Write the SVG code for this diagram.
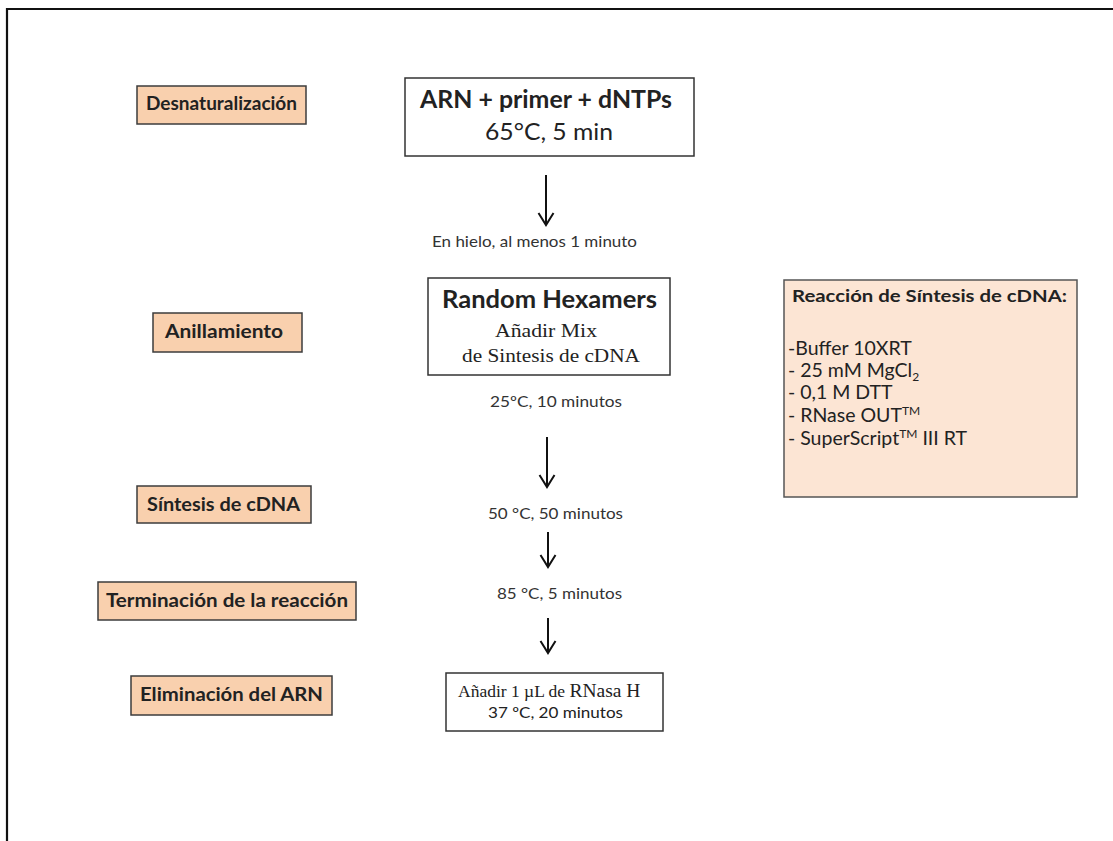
<svg xmlns="http://www.w3.org/2000/svg" width="1113" height="841" viewBox="0 0 1113 841">
<style>
.lbl rect{fill:#f9d0ae;stroke:#3c3c3c;stroke-width:1.5}
.lbl text{font-family:Lato,"Liberation Sans",sans-serif;font-weight:bold;font-size:18.5px;fill:#222}
.box{fill:#fff;stroke:#333;stroke-width:1.5}
.sans{font-family:Lato,"Liberation Sans",sans-serif;fill:#222}
.serif{font-family:"Liberation Serif",serif;fill:#222}
.note{font-family:Lato,"Liberation Sans",sans-serif;font-size:15px;fill:#333}
.item{font-family:Lato,"Liberation Sans",sans-serif;font-size:19.5px;fill:#222}
.arr{fill:none;stroke:#111;stroke-width:2}
</style>
<rect width="1113" height="841" fill="#fff"/>
<path d="M7 841V9H1113" fill="none" stroke="#111" stroke-width="2.2"/>

<g id="desnaturalizacion" class="lbl"><rect x="137" y="86" width="169" height="38"/><text x="146" y="110" textLength="151" lengthAdjust="spacingAndGlyphs">Desnaturalización</text></g>
<g id="anillamiento" class="lbl"><rect x="153" y="313" width="149" height="39"/><text x="165" y="338" textLength="118" lengthAdjust="spacingAndGlyphs">Anillamiento</text></g>
<g id="sintesis" class="lbl"><rect x="137" y="486" width="174" height="37"/><text x="147" y="511" textLength="153" lengthAdjust="spacingAndGlyphs">Síntesis de cDNA</text></g>
<g id="terminacion" class="lbl"><rect x="98" y="582" width="258" height="38"/><text x="106" y="607" textLength="242" lengthAdjust="spacingAndGlyphs">Terminación de la reacción</text></g>
<g id="eliminacion" class="lbl"><rect x="131" y="676" width="201" height="39"/><text x="140" y="701" textLength="183" lengthAdjust="spacingAndGlyphs">Eliminación del ARN</text></g>

<g id="arn">
<rect class="box" x="405" y="78" width="289" height="78"/>
<text class="sans" x="420" y="108" font-size="25" font-weight="bold" textLength="252" lengthAdjust="spacingAndGlyphs">ARN + primer + dNTPs</text>
<text class="sans" x="485" y="140" font-size="23" textLength="128" lengthAdjust="spacingAndGlyphs">65°C, 5 min</text>
</g>
<text class="note" x="432" y="247" textLength="205" lengthAdjust="spacingAndGlyphs">En hielo, al menos 1 minuto</text>

<g id="random">
<rect class="box" x="428" y="278" width="242" height="97"/>
<text class="sans" x="442" y="308" font-size="24" font-weight="bold" textLength="215" lengthAdjust="spacingAndGlyphs">Random Hexamers</text>
<text class="serif" x="495" y="337" font-size="19" textLength="102" lengthAdjust="spacingAndGlyphs">Añadir Mix</text>
<text class="serif" x="462" y="362" font-size="19" textLength="178" lengthAdjust="spacingAndGlyphs">de Sintesis de cDNA</text>
</g>
<text class="note" x="490" y="407" textLength="132" lengthAdjust="spacingAndGlyphs">25ºC, 10 minutos</text>

<g id="reaccion">
<rect x="784" y="280" width="293" height="217" fill="#fce5d4" stroke="#555" stroke-width="1.5"/>
<text class="sans" x="792" y="302" font-size="17.5" font-weight="bold" textLength="275" lengthAdjust="spacingAndGlyphs">Reacción de Síntesis de cDNA:</text>
<text class="item" x="788" y="355">-Buffer 10XRT</text>
<text class="item" x="788" y="377">- 25 mM MgCl<tspan font-size="12" dy="4">2</tspan></text>
<text class="item" x="788" y="399">- 0,1 M DTT</text>
<text class="item" x="788" y="422">- RNase OUT<tspan font-size="12" dy="-7">TM</tspan></text>
<text class="item" x="788" y="445">- SuperScript<tspan font-size="12" dy="-7">TM</tspan><tspan dy="7"> III RT</tspan></text>
</g>

<text class="note" x="488" y="519" textLength="135" lengthAdjust="spacingAndGlyphs">50 °C, 50 minutos</text>
<text class="note" x="497" y="599" textLength="125" lengthAdjust="spacingAndGlyphs">85 °C, 5 minutos</text>

<g id="rnasa">
<rect class="box" x="446" y="673" width="217" height="58"/>
<text class="serif" x="458" y="697" font-size="17.5">Añadir 1 µL de <tspan font-size="19.5">RNasa H</tspan></text>
<text class="sans" x="488" y="718" font-size="15" textLength="135" lengthAdjust="spacingAndGlyphs">37 ºC, 20 minutos</text>
</g>

<g id="connectors" class="arr">
<path d="M546 175V225M538.5 213L546 225L553.5 213"/>
<path d="M547 437V487M539.5 475L547 487L554.5 475"/>
<path d="M548 532V567M540.5 555L548 567L555.5 555"/>
<path d="M548 618V653M540.5 641L548 653L555.5 641"/>
</g>
</svg>
